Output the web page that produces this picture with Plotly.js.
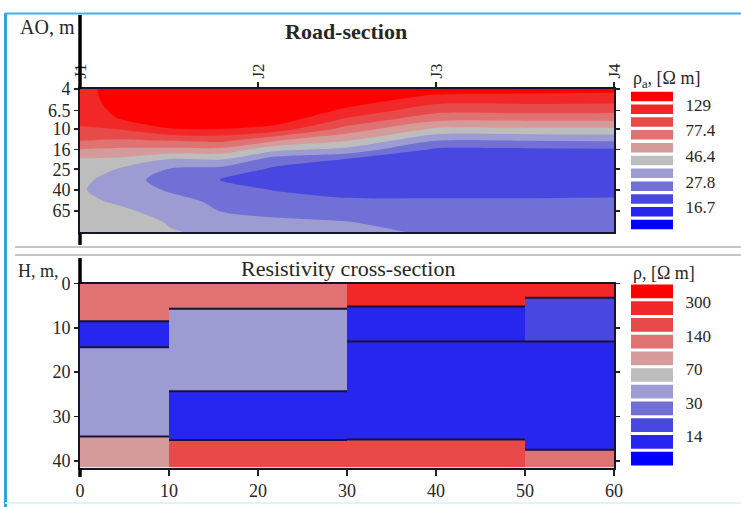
<!DOCTYPE html>
<html><head><meta charset="utf-8">
<script src="https://cdn.plot.ly/plotly-3.0.1.min.js"></script>
<style>html,body{margin:0;padding:0;background:#fff}#chart{width:741px;height:507px}</style>
</head><body><div id="chart"></div>
<script>
// ---------- Top panel: apparent resistivity road-section ----------
const stationPos = [0, 20, 40, 60];
const stationLabels = ['J1', 'J2', 'J3', 'J4'];
const gridPos = [0, 4, 10, 16, 22, 30, 40, 50, 60];
const aoVals = [4, 5, 6.5, 8, 10, 13, 16, 20, 25, 32, 40, 52, 65, 85, 105];
const aoTicks = [4, 6.5, 10, 16, 25, 40, 65];
const aoTickText = ['4', '6.5', '10', '16', '25', '40', '65'];
// rows = AO values, columns = gridPos (apparent resistivity, Ohm m)
const rhoA = [
  [112, 150, 175, 180, 185, 175, 150, 145, 140],
  [111, 146, 172, 178, 180, 155, 115, 113, 112],
  [108, 136, 165, 172, 170, 122, 85, 86, 85],
  [104, 127, 150, 160, 150, 96, 64, 63, 63],
  [98, 100, 127, 128, 115, 70, 44, 44, 44],
  [78, 75, 78, 82, 61, 47, 28, 28, 28.5],
  [59, 57, 56, 55, 38, 33, 20.5, 20.5, 20.8],
  [45, 44, 35.5, 36, 24.5, 21.2, 18.5, 18.5, 18.6],
  [41, 36, 27.5, 25.5, 20.5, 19, 18, 18, 18.2],
  [38, 33, 24.5, 21.3, 19.5, 18.5, 18, 18, 18.2],
  [37, 32, 27.2, 23.5, 21.3, 19.5, 19, 19, 19.2],
  [38, 35, 30, 26.5, 24, 22.5, 22.5, 22.6, 22.8],
  [40, 38, 33, 27.5, 26.5, 25.5, 24, 24, 24.2],
  [42, 41, 35.5, 32.5, 29, 28.2, 25.3, 25, 25.2],
  [43, 42, 36.5, 34.5, 30.5, 30, 26.8, 25.5, 25.6]
];
const cbTopLevels = [12.9, 16.7, 21.6, 27.8, 35.9, 46.4, 59.9, 77.4, 99.9, 129];
const cbTopLabels = ['129', '77.4', '46.4', '27.8', '16.7'];
const bandColors = ['#0000ff', '#2626ee', '#4848e0', '#7070d6', '#9c9cd2', '#bdbdbd',
                    '#d59a9a', '#e07272', '#e84a4a', '#f22828', '#ff0000'];

// ---------- Bottom panel: layered resistivity cross-section ----------
const cbBotLevels = [9.6, 14, 20.5, 30, 46, 70, 99, 140, 205, 300];
const cbBotLabels = ['300', '140', '70', '30', '14'];
const depthMax = 41.5;
const layerX0 = [0, 0, 0, 0, 10, 10, 10, 10, 30, 30, 30, 30, 50, 50, 50, 50];
const layerX1 = [10, 10, 10, 10, 30, 30, 30, 30, 50, 50, 50, 50, 60, 60, 60, 60];
const layerTop = [0, 8.5, 14.4, 34.5, 0, 5.7, 24.3, 35.3, 0, 5.2, 13.1, 35.2, 0, 3.2, 13.1, 37.5];
const layerBot = [8.5, 14.4, 34.5, 41.5, 5.7, 24.3, 35.3, 41.5, 5.2, 13.1, 35.2, 41.5, 3.2, 13.1, 37.5, 41.5];
const layerRho = [120, 12, 38, 85, 120, 38, 12, 170, 250, 12, 12, 170, 250, 17, 12, 120];

// ---------- helpers ----------
const W = 741, H = 507;
const px = x => x / W;
const py = y => 1 - y / H;
const FONT = 'Liberation Serif, Times New Roman, serif';
const TXT = '#262626';
const FRAME = '#16162a';

const lgSize = (Math.log10(cbTopLevels[9]) - Math.log10(cbTopLevels[1])) / 8;
const lgStart = Math.log10(cbTopLevels[1]) - lgSize;
const lgEnd = lgStart + 9 * lgSize;

const contour = {
  type: 'contour', x: gridPos, y: aoVals,
  z: rhoA.map(r => r.map(v => Math.log10(v))),
  xaxis: 'x', yaxis: 'y',
  autocontour: false,
  contours: {start: lgStart, end: lgEnd, size: lgSize, coloring: 'fill', showlines: false},
  colorscale: bandColors.map((c, i) => [i / 10, c]),
  line: {width: 0, smoothing: 0.9},
  showscale: false, hoverinfo: 'skip'
};

const bandIdx = (rho, levels) => levels.filter(l => rho >= l).length;
const layers = {
  type: 'bar', xaxis: 'x2', yaxis: 'y2',
  x: layerX0.map((a, i) => (a + layerX1[i]) / 2),
  width: layerX0.map((a, i) => layerX1[i] - a),
  base: layerTop,
  y: layerTop.map((t, i) => layerBot[i] - t),
  marker: {color: layerRho.map(r => bandColors[bandIdx(r, cbBotLevels)]), line: {width: 0}},
  hoverinfo: 'skip', showlegend: false
};
const bx = [], by = [];
layerTop.forEach((t, i) => { if (t > 0) { bx.push(layerX0[i], layerX1[i], null); by.push(t, t, null); } });
const bounds = {type: 'scatter', mode: 'lines', x: bx, y: by, xaxis: 'x2', yaxis: 'y2',
  line: {color: '#1a1236', width: 2}, hoverinfo: 'skip', showlegend: false};

const idx = bandColors.map((c, i) => i);
const cbTop = {type: 'bar', xaxis: 'x3', yaxis: 'y3', x: idx.map(() => 0), width: 1,
  base: idx.map(i => i + 0.13), y: idx.map(() => 0.74),
  marker: {color: bandColors, line: {width: 0}}, hoverinfo: 'skip', showlegend: false};
const cbBot = {type: 'bar', xaxis: 'x4', yaxis: 'y4', x: idx.map(() => 0), width: 1,
  base: idx.map(i => i + 0.09), y: idx.map(() => 0.82),
  marker: {color: bandColors, line: {width: 0}}, hoverinfo: 'skip', showlegend: false};

const tickFont = {family: FONT, size: 18, color: TXT};
const baseAxis = {showgrid: false, zeroline: false, showline: true, linecolor: FRAME, linewidth: 2,
  ticks: 'outside', tickcolor: '#222', tickwidth: 1.5, tickfont: tickFont};

const cbAxis = (dom, anchor, labels, pos) => ({domain: dom, anchor: anchor,
  range: [0, 11], side: 'right', showgrid: false, zeroline: false, showline: false,
  tickvals: pos, ticktext: labels, ticks: 'outside', ticklen: 8, tickcolor: 'rgba(0,0,0,0)',
  tickfont: {family: FONT, size: 17, color: TXT}});

const line = (x0, y0, x1, y1, color, width) => ({type: 'line', xref: 'paper', yref: 'paper',
  x0: px(x0), y0: py(y0), x1: px(x1), y1: py(y1), line: {color: color, width: width}});

const ann = (text, x, y, size, xanchor) => ({text: text, x: px(x), y: py(y), xref: 'paper', yref: 'paper',
  xanchor: xanchor || 'left', yanchor: 'middle', showarrow: false,
  font: {family: FONT, size: size, color: TXT}});

const layout = {
  width: W, height: H, margin: {l: 0, r: 0, t: 0, b: 0},
  paper_bgcolor: '#fff', plot_bgcolor: '#fff', showlegend: false, barmode: 'overlay',
  xaxis: Object.assign({}, baseAxis, {domain: [px(80), px(614)], anchor: 'y', side: 'top',
    range: [0, 60], tickvals: stationPos, ticktext: stationLabels, tickangle: -90, ticklen: 5,
    mirror: true, tickfont: {family: FONT, size: 17, color: TXT}}),
  yaxis: Object.assign({}, baseAxis, {domain: [py(232), py(89)], anchor: 'x', type: 'log',
    range: [Math.log10(105), Math.log10(4)], tickvals: aoTicks, ticktext: aoTickText,
    ticklen: 4, mirror: 'ticks'}),
  xaxis2: Object.assign({}, baseAxis, {domain: [px(80), px(614)], anchor: 'y2',
    range: [0, 60], tickvals: [0, 10, 20, 30, 40, 50, 60], ticklen: 6, mirror: true}),
  yaxis2: Object.assign({}, baseAxis, {domain: [py(467.5), py(283.5)], anchor: 'x2',
    range: [depthMax, 0], tickvals: [0, 10, 20, 30, 40], ticklen: 4, mirror: 'ticks'}),
  xaxis3: {domain: [px(631), px(673)], anchor: 'y3', range: [-0.5, 0.5], visible: false},
  yaxis3: cbAxis([py(231), py(90)], 'x3', cbTopLabels, [9.85, 7.85, 5.85, 3.85, 1.85]),
  xaxis4: {domain: [px(631), px(673)], anchor: 'y4', range: [-0.5, 0.5], visible: false},
  yaxis4: cbAxis([py(467), py(283)], 'x4', cbBotLabels, [9.85, 7.85, 5.85, 3.85, 1.85]),
  shapes: [
    line(5.5, 13, 5.5, 507, '#2aa8de', 3),
    line(5, 13.5, 741, 13.5, '#3fb3e0', 2),
    line(5, 503, 741, 503, '#dff3fa', 2),
    line(15, 247, 741, 247, '#c4c4c4', 2),
    line(15, 255, 741, 255, '#c4c4c4', 2),
    line(80, 15, 80, 89, '#000', 3.5),
    line(80, 233, 80, 245, '#000', 3.5),
    line(80, 258, 80, 284, '#000', 3.5),
    line(80, 468, 80, 477, '#000', 3.5)
  ],
  annotations: [
    ann('AO, m', 18, 27, 20),
    ann('<b>Road-section</b>', 346, 32, 22, 'center'),
    ann('ρ<sub>a</sub>, [Ω m]', 631, 79, 18),
    ann('H, m,', 61, 271, 18, 'right'),
    ann('Resistivity cross-section', 348, 268, 22, 'center'),
    ann('ρ, [Ω m]', 631, 273, 18)
  ]
};

Plotly.newPlot('chart', [contour, layers, bounds, cbTop, cbBot], layout, {staticPlot: true, displayModeBar: false});
</script>
</body></html>
